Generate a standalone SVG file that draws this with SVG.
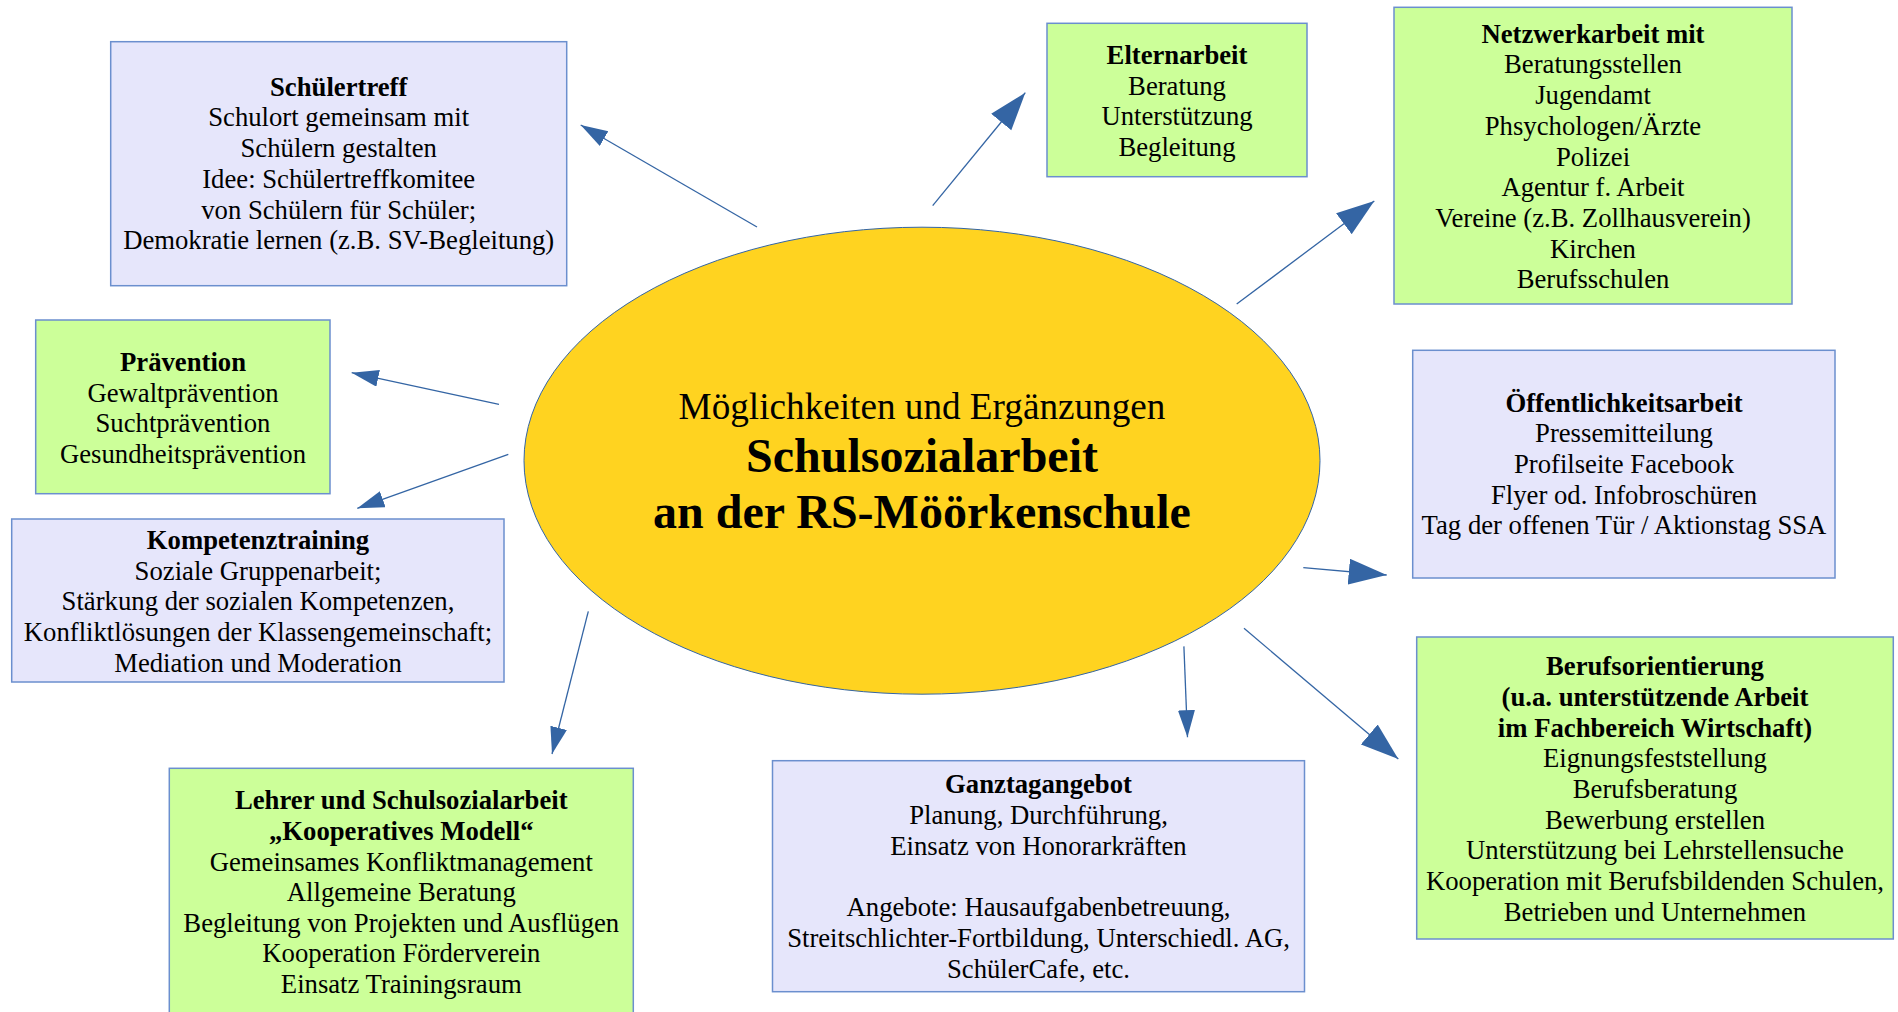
<svg xmlns="http://www.w3.org/2000/svg" width="1898" height="1012" viewBox="0 0 1898 1012">
<style>
text{font-family:"Liberation Serif","Times New Roman",serif;font-size:26.7px;fill:#000;text-anchor:middle}
.b{font-weight:bold}
.lav{fill:#e6e6fb;stroke:#6b8fce;stroke-width:1.5}
.grn{fill:#ccff99;stroke:#6b8fce;stroke-width:1.5}
.con{stroke:#3465a4;stroke-width:1.3;fill:none}
.sm{marker-end:url(#ahS)}
.lg{marker-end:url(#ahL)}
.t1{font-size:37.2px}
.t2{font-size:48px;font-weight:bold}
</style>
<defs>
<marker id="ahS" markerUnits="userSpaceOnUse" markerWidth="28" markerHeight="18" refX="27" refY="8.5" orient="auto"><path d="M0,0 L27,8.5 L0,17 z" fill="#3465a4"/></marker>
<marker id="ahL" markerUnits="userSpaceOnUse" markerWidth="39" markerHeight="27" refX="38" refY="13" orient="auto"><path d="M0,0 L38,13 L0,26 z" fill="#3465a4"/></marker>
</defs>
<rect width="1898" height="1012" fill="#fff"/>

<g id="center">
<ellipse cx="922" cy="460.7" rx="398" ry="233.5" fill="#ffd320" stroke="#3465a4" stroke-width="1"/>
<text x="922" y="418.6" class="t1">Möglichkeiten und Ergänzungen</text>
<text x="922" y="472" class="t2">Schulsozialarbeit</text>
<text x="922" y="527.6" class="t2">an der RS-Möörkenschule</text>
</g>

<g id="schuelertreff">
<rect x="110.7" y="41.7" width="456" height="244" class="lav"/>
<text x="338.7" y="95.7" class="b">Schülertreff</text>
<text x="338.7" y="126.4">Schulort gemeinsam mit</text>
<text x="338.7" y="157.1">Schülern gestalten</text>
<text x="338.7" y="187.8">Idee: Schülertreffkomitee</text>
<text x="338.7" y="218.5">von Schülern für Schüler;</text>
<text x="338.7" y="249.2">Demokratie lernen (z.B. SV-Begleitung)</text>
</g>

<g id="elternarbeit">
<rect x="1047" y="23.3" width="260" height="153.4" class="grn"/>
<text x="1177" y="64" class="b">Elternarbeit</text>
<text x="1177" y="94.7">Beratung</text>
<text x="1177" y="125.4">Unterstützung</text>
<text x="1177" y="156.1">Begleitung</text>
</g>

<g id="netzwerkarbeit">
<rect x="1394" y="7.3" width="398" height="296.7" class="grn"/>
<text x="1593" y="42.7" class="b">Netzwerkarbeit mit</text>
<text x="1593" y="73.4">Beratungsstellen</text>
<text x="1593" y="104.1">Jugendamt</text>
<text x="1593" y="134.8">Phsychologen/Ärzte</text>
<text x="1593" y="165.5">Polizei</text>
<text x="1593" y="196.2">Agentur f. Arbeit</text>
<text x="1593" y="226.9">Vereine (z.B. Zollhausverein)</text>
<text x="1593" y="257.6">Kirchen</text>
<text x="1593" y="288.3">Berufsschulen</text>
</g>

<g id="praevention">
<rect x="35.7" y="320" width="294.3" height="173.7" class="grn"/>
<text x="183" y="371" class="b">Prävention</text>
<text x="183" y="401.7">Gewaltprävention</text>
<text x="183" y="432.4">Suchtprävention</text>
<text x="183" y="463.1">Gesundheitsprävention</text>
</g>

<g id="kompetenztraining">
<rect x="11.7" y="519" width="492.3" height="163" class="lav"/>
<text x="258" y="549" class="b">Kompetenztraining</text>
<text x="258" y="579.7">Soziale Gruppenarbeit;</text>
<text x="258" y="610.4">Stärkung der sozialen Kompetenzen,</text>
<text x="258" y="641.1">Konfliktlösungen der Klassengemeinschaft;</text>
<text x="258" y="671.8">Mediation und Moderation</text>
</g>

<g id="oeffentlichkeitsarbeit">
<rect x="1412.7" y="350.3" width="422.3" height="227.7" class="lav"/>
<text x="1624" y="411.6" class="b">Öffentlichkeitsarbeit</text>
<text x="1624" y="442.3">Pressemitteilung</text>
<text x="1624" y="473">Profilseite Facebook</text>
<text x="1624" y="503.7">Flyer od. Infobroschüren</text>
<text x="1624" y="534.4">Tag der offenen Tür / Aktionstag SSA</text>
</g>

<g id="berufsorientierung">
<rect x="1416.7" y="637" width="476.6" height="302" class="grn"/>
<text x="1655" y="675.2" class="b">Berufsorientierung</text>
<text x="1655" y="705.9" class="b">(u.a. unterstützende Arbeit</text>
<text x="1655" y="736.6" class="b">im Fachbereich Wirtschaft)</text>
<text x="1655" y="767.3">Eignungsfeststellung</text>
<text x="1655" y="798">Berufsberatung</text>
<text x="1655" y="828.7">Bewerbung erstellen</text>
<text x="1655" y="859.4">Unterstützung bei Lehrstellensuche</text>
<text x="1655" y="890.1">Kooperation mit Berufsbildenden Schulen,</text>
<text x="1655" y="920.8">Betrieben und Unternehmen</text>
</g>

<g id="lehrer">
<rect x="169.3" y="768.3" width="464" height="250" class="grn"/>
<text x="401.3" y="809.3" class="b">Lehrer und Schulsozialarbeit</text>
<text x="401.3" y="839.9" class="b">„Kooperatives Modell“</text>
<text x="401.3" y="870.5">Gemeinsames Konfliktmanagement</text>
<text x="401.3" y="901.1">Allgemeine Beratung</text>
<text x="401.3" y="931.7">Begleitung von Projekten und Ausflügen</text>
<text x="401.3" y="962.3">Kooperation Förderverein</text>
<text x="401.3" y="992.9">Einsatz Trainingsraum</text>
</g>

<g id="ganztagangebot">
<rect x="772.5" y="760.7" width="532" height="231" class="lav"/>
<text x="1038.5" y="793.3" class="b">Ganztagangebot</text>
<text x="1038.5" y="824">Planung, Durchführung,</text>
<text x="1038.5" y="854.7">Einsatz von Honorarkräften</text>
<text x="1038.5" y="916.1">Angebote: Hausaufgabenbetreuung,</text>
<text x="1038.5" y="946.8">Streitschlichter-Fortbildung, Unterschiedl. AG,</text>
<text x="1038.5" y="977.5">SchülerCafe, etc.</text>
</g>

<g id="connectors">
<line x1="757" y1="227" x2="580.7" y2="125" class="con sm"/>
<line x1="932.7" y1="205.7" x2="1025.3" y2="92.7" class="con lg"/>
<line x1="1236.7" y1="304" x2="1374.3" y2="201" class="con lg"/>
<line x1="499" y1="404.3" x2="351.7" y2="372.7" class="con sm"/>
<line x1="508.3" y1="454.3" x2="357.3" y2="508.3" class="con sm"/>
<line x1="1303.3" y1="567.7" x2="1386.7" y2="575" class="con lg"/>
<line x1="1244" y1="628.3" x2="1398.3" y2="759" class="con lg"/>
<line x1="1183.9" y1="646.4" x2="1187.5" y2="737.2" class="con sm"/>
<line x1="588.3" y1="611.3" x2="552" y2="754" class="con sm"/>
</g>
</svg>
